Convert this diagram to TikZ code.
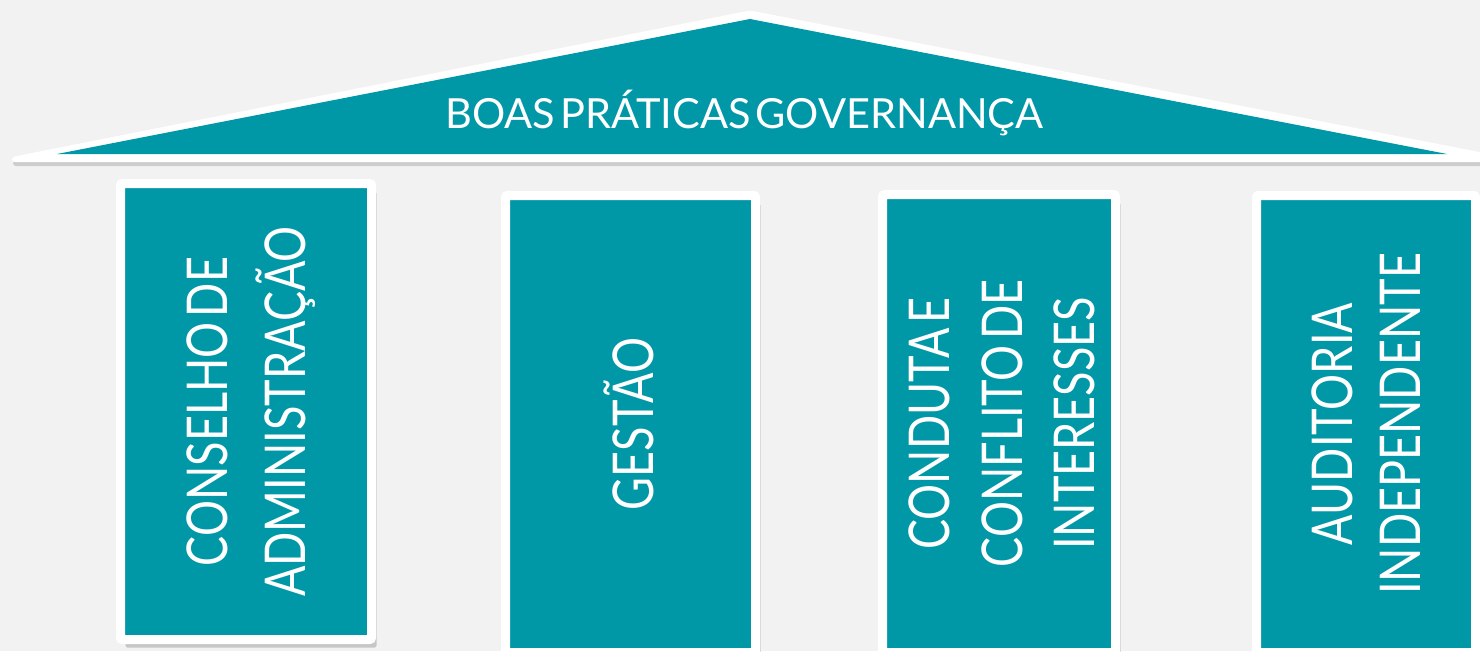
\documentclass[tikz,border=0pt]{standalone}
\usepackage{fontspec}
\setmainfont{Lato}[WordSpace=0.45]
\usetikzlibrary{shadows}

\definecolor{govteal}{RGB}{0,152,167}
\definecolor{govbg}{RGB}{242,242,242}
\newcommand{\colfont}[1]{\fontsize{45}{#1}\selectfont}

\tikzset{
    pillar/.style={rectangle, fill=govteal, draw=white, line width=9pt, rounded corners=2pt, inner sep=0pt,
        drop shadow={shadow xshift=5pt, shadow yshift=-8pt, opacity=.18, fill=black}},
    coltext/.style={text=white, align=center, rotate=90, yscale=1.25, inner sep=0pt}
}

\begin{document}
\begin{tikzpicture}[x=1pt,y=-1pt]
            \fill[govbg] (0,0) rectangle (1480,651);
            \useasboundingbox (0,0) rectangle (1480,651);
            % telhado
            \fill[black, opacity=.15, rounded corners=3pt, shift={(1,4)}] (12,162) -- (12,157) -- (750,10.5) -- (1500,156) -- (1500,162) -- cycle;
            \fill[white, rounded corners=3pt] (12,162) -- (12,157) -- (750,10.5) -- (1500,156) -- (1500,162) -- cycle;
            \fill[govteal] (57,154) -- (750,19) -- (1447,154) -- cycle;
            \node[text=white, font=\fontsize{41.5}{48}\selectfont, anchor=base] (titulo) at (744.5,128) {BOAS PRÁTICAS GOVERNANÇA};
            % colunas
            \node[pillar, minimum width=251pt, minimum height=456pt] (col1) at (246,411.5) {};
            \node[pillar, minimum width=250pt, minimum height=457pt] (col2) at (630.5,424) {};
            \node[pillar, minimum width=233pt, minimum height=458pt] (col3) at (999,423.5) {};
            \node[pillar, minimum width=219pt, minimum height=457pt] (col4) at (1366,424) {};
            \node[coltext, font=\colfont{62}] (txt1) at ([xshift=5pt]col1.center) {CONSELHO DE\\ADMINISTRAÇÃO};
            \node[coltext, font=\colfont{62}] (txt2) at ([xshift=-2pt]col2.center) {GESTÃO};
            \node[coltext, font=\colfont{58}] (txt3) at ([xshift=3pt]col3.center) {CONDUTA E\\CONFLITO DE\\INTERESSES};
            \node[coltext, font=\colfont{54}] (txt4) at (col4.center) {AUDITORIA\\INDEPENDENTE};
\end{tikzpicture}
\end{document}
